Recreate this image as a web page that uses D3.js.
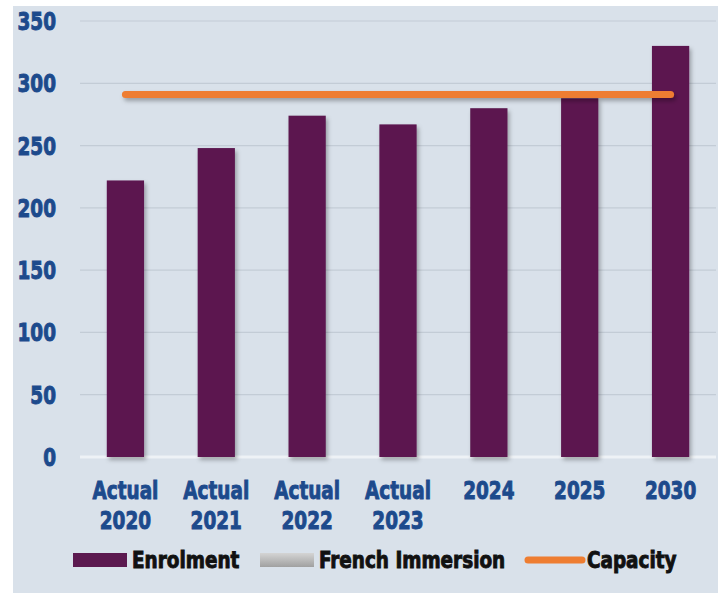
<!DOCTYPE html>
<html>
<head>
<meta charset="utf-8">
<script src="https://cdn.jsdelivr.net/npm/d3@7"></script>
<style>
  body { margin: 0; background: #fff; overflow: hidden; }
  text { font-family: "DejaVu Sans Condensed", "DejaVu Sans", sans-serif; font-weight: bold; }
</style>
</head>
<body>
<svg class="chart"></svg>
<script>
var categories = [["Actual", "2020"], ["Actual", "2021"], ["Actual", "2022"], ["Actual", "2023"], ["2024"], ["2025"], ["2030"]];
var enrolment = [222, 248, 274, 267, 280, 288, 330];
var capacity = [291, 291, 291, 291, 291, 291, 291];
var yTicks = [0, 50, 100, 150, 200, 250, 300, 350];
var legendItems = ["Enrolment", "French Immersion", "Capacity"];

var svg = d3.select(".chart")
    .attr("width", 718)
    .attr("height", 593);

var defs = svg.append("defs");

var shadow = defs.append("filter")
    .attr("id", "shadow")
    .attr("filterUnits", "userSpaceOnUse")
    .attr("x", 0).attr("y", 0)
    .attr("width", 718).attr("height", 593);
shadow.append("feDropShadow")
    .attr("dx", 2).attr("dy", 3)
    .attr("stdDeviation", 2)
    .attr("flood-color", "#000")
    .attr("flood-opacity", 0.3);

var grey = defs.append("linearGradient")
    .attr("id", "grey")
    .attr("x1", 0).attr("y1", 0).attr("x2", 0).attr("y2", 1);
grey.append("stop").attr("offset", "0%").attr("stop-color", "#d4d4d4");
grey.append("stop").attr("offset", "100%").attr("stop-color", "#a0a0a0");

// panel
svg.append("rect")
    .attr("x", 13)
    .attr("y", 6)
    .attr("width", 705)
    .attr("height", 587)
    .attr("fill", "#d9e1ea");

var x = d3.scaleBand()
    .domain(d3.range(categories.length))
    .range([80, 716]);

var y = d3.scaleLinear()
    .domain([0, 350])
    .range([457, 21]);

var barWidth = x.bandwidth() * 0.41;

// grid
svg.append("g")
    .selectAll(".grid")
    .data(yTicks)
  .enter().append("line")
    .attr("class", "grid")
    .attr("x1", 80)
    .attr("x2", 716)
    .attr("y1", function(d) { return y(d); })
    .attr("y2", function(d) { return y(d); })
    .attr("stroke", function(d) { return d === 0 ? "#eef2f6" : "#c3ccd6"; })
    .attr("stroke-width", function(d) { return d === 0 ? 3 : 1.2; });

// y labels
svg.append("g")
    .selectAll(".ylab")
    .data(yTicks)
  .enter().append("text")
    .attr("class", "ylab")
    .attr("transform", function(d) { return "translate(56," + (y(d) + 9) + ") scale(0.82,1)"; })
    .attr("text-anchor", "end")
    .attr("font-size", 25)
    .attr("fill", "#1d4a8c")
    .attr("stroke", "#1d4a8c")
    .attr("stroke-width", 0.9)
    .text(function(d) { return d; });

// bars
svg.append("g")
    .selectAll(".bar")
    .data(enrolment)
  .enter().append("rect")
    .attr("class", "bar")
    .attr("x", function(d, i) { return x(i) + (x.bandwidth() - barWidth) / 2; })
    .attr("y", function(d) { return y(d); })
    .attr("width", barWidth)
    .attr("height", function(d) { return y(0) - y(d); })
    .attr("fill", "#5b194f")
    .attr("filter", "url(#shadow)");

// capacity line
var line = d3.line()
    .x(function(d, i) { return x(i) + x.bandwidth() / 2; })
    .y(function(d) { return y(d); });

svg.append("path")
    .datum(capacity)
    .attr("d", line)
    .attr("fill", "none")
    .attr("stroke", "#ee7d31")
    .attr("stroke-width", 7)
    .attr("stroke-linecap", "round")
    .attr("filter", "url(#shadow)");

// x labels
var xl = svg.append("g")
    .selectAll(".xlab")
    .data(categories)
  .enter().append("text")
    .attr("class", "xlab")
    .attr("transform", function(d, i) { return "translate(" + (x(i) + x.bandwidth() / 2) + ",499) scale(0.82,1)"; })
    .attr("text-anchor", "middle")
    .attr("font-size", 25)
    .attr("fill", "#1d4a8c")
    .attr("stroke", "#1d4a8c")
    .attr("stroke-width", 0.9);

xl.selectAll("tspan")
    .data(function(d) { return d; })
  .enter().append("tspan")
    .attr("x", 0)
    .attr("dy", function(d, i) { return i === 0 ? 0 : 30; })
    .text(function(d) { return d; });

// legend
var legendX = [73, 260, 526];
var lg = svg.append("g")
    .selectAll(".legend")
    .data(legendItems)
  .enter().append("g")
    .attr("class", "legend")
    .attr("transform", function(d, i) { return "translate(" + legendX[i] + ",560)"; });

lg.each(function(d, i) {
  var g = d3.select(this);
  if (i < 2) {
    g.append("rect")
      .attr("x", 0)
      .attr("y", -7)
      .attr("width", 54)
      .attr("height", 14)
      .attr("fill", i === 0 ? "#5b194f" : "url(#grey)");
  } else {
    g.append("line")
      .attr("x1", 2).attr("x2", 56)
      .attr("y1", 0).attr("y2", 0)
      .attr("stroke", "#ee7d31")
      .attr("stroke-width", 7)
      .attr("stroke-linecap", "round");
  }
  g.append("text")
    .attr("transform", "translate(" + (i === 2 ? 61 : 59) + ",8) scale(0.89,1)")
    .attr("font-size", 23)
    .attr("fill", "#111")
    .attr("stroke", "#111")
    .attr("stroke-width", 0.9)
    .text(d);
});
</script>
</body>
</html>
